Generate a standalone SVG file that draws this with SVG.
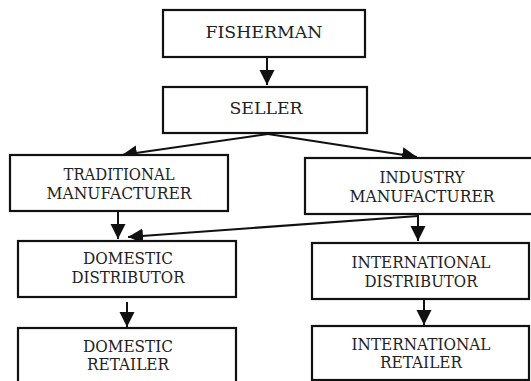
<svg xmlns="http://www.w3.org/2000/svg" width="531" height="381" viewBox="0 0 531 381">
<style>
.box{fill:#fff;stroke:#111;stroke-width:2.2}
.t{font-family:'DejaVu Serif','Liberation Serif',serif;font-size:16px;fill:#222;text-anchor:middle}
.big{font-size:17.5px}
.c{stroke:#111;stroke-width:2;fill:none}
</style>
<defs>
<marker id="ah" markerUnits="userSpaceOnUse" markerWidth="16" markerHeight="16" refX="15" refY="7.5" orient="auto" viewBox="0 0 16 15">
<path d="M0,0 L15,7.5 L0,15 z" fill="#111"/>
</marker>
</defs>
<g id="connectors">
<line class="c" x1="267" y1="57" x2="267" y2="85" marker-end="url(#ah)"/>
<line class="c" x1="268" y1="134" x2="122" y2="155" marker-end="url(#ah)"/>
<line class="c" x1="268" y1="134" x2="417" y2="157" marker-end="url(#ah)"/>
<line class="c" x1="118" y1="212" x2="118" y2="239" marker-end="url(#ah)"/>
<line class="c" x1="418" y1="216" x2="128" y2="237" marker-end="url(#ah)"/>
<line class="c" x1="418" y1="215" x2="418" y2="241" marker-end="url(#ah)"/>
<line class="c" x1="127" y1="302" x2="127" y2="327" marker-end="url(#ah)"/>
<line class="c" x1="424" y1="299" x2="424" y2="325" marker-end="url(#ah)"/>
</g>
<g id="fisherman">
<rect class="box" x="163" y="10" width="202" height="47"/>
<text class="t big" x="264" y="38" textLength="117" lengthAdjust="spacingAndGlyphs">FISHERMAN</text>
</g>
<g id="seller">
<rect class="box" x="163" y="87" width="204" height="46"/>
<text class="t big" x="266" y="114" textLength="73" lengthAdjust="spacingAndGlyphs">SELLER</text>
</g>
<g id="traditional">
<rect class="box" x="10" y="155" width="218" height="56"/>
<text class="t" x="119" y="180" textLength="111" lengthAdjust="spacingAndGlyphs">TRADITIONAL</text>
<text class="t" x="119" y="199" textLength="145" lengthAdjust="spacingAndGlyphs">MANUFACTURER</text>
</g>
<g id="industry">
<rect class="box" x="305" y="158" width="232" height="56"/>
<text class="t" x="422" y="183" textLength="85" lengthAdjust="spacingAndGlyphs">INDUSTRY</text>
<text class="t" x="422" y="202" textLength="145" lengthAdjust="spacingAndGlyphs">MANUFACTURER</text>
</g>
<g id="domestic-distributor">
<rect class="box" x="18" y="241" width="218" height="56"/>
<text class="t" x="128" y="264" textLength="90" lengthAdjust="spacingAndGlyphs">DOMESTIC</text>
<text class="t" x="128" y="283" textLength="113" lengthAdjust="spacingAndGlyphs">DISTRIBUTOR</text>
</g>
<g id="international-distributor">
<rect class="box" x="312" y="243" width="217" height="56"/>
<text class="t" x="421" y="268" textLength="139" lengthAdjust="spacingAndGlyphs">INTERNATIONAL</text>
<text class="t" x="421" y="287" textLength="113" lengthAdjust="spacingAndGlyphs">DISTRIBUTOR</text>
</g>
<g id="domestic-retailer">
<rect class="box" x="18" y="328" width="218" height="62"/>
<text class="t" x="128" y="352" textLength="90" lengthAdjust="spacingAndGlyphs">DOMESTIC</text>
<text class="t" x="128" y="370" textLength="82" lengthAdjust="spacingAndGlyphs">RETAILER</text>
</g>
<g id="international-retailer">
<rect class="box" x="312" y="326" width="217" height="54"/>
<text class="t" x="421" y="350" textLength="139" lengthAdjust="spacingAndGlyphs">INTERNATIONAL</text>
<text class="t" x="421" y="368" textLength="82" lengthAdjust="spacingAndGlyphs">RETAILER</text>
</g>
</svg>
